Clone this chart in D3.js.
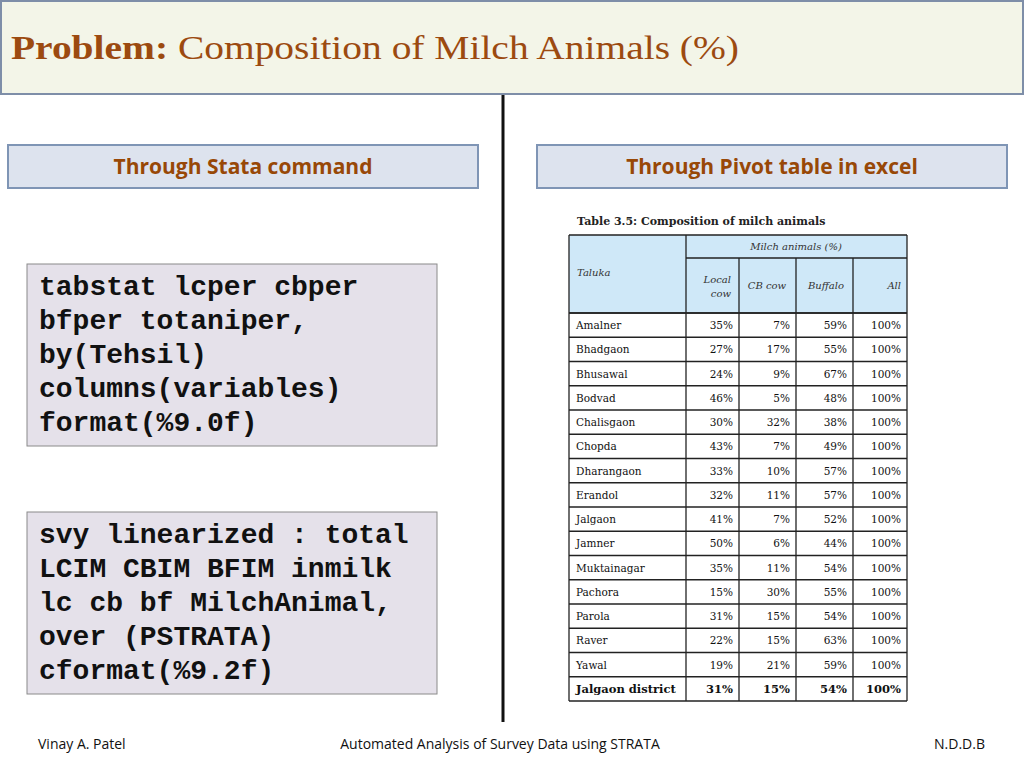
<!DOCTYPE html><html><head><meta charset="utf-8">
<script src="https://cdn.jsdelivr.net/npm/d3@7"></script>
<style>body{margin:0;background:#fff}</style></head><body>
<script>
const talukas=["Amalner","Bhadgaon","Bhusawal","Bodvad","Chalisgaon","Chopda","Dharangaon","Erandol","Jalgaon","Jamner","Muktainagar","Pachora","Parola","Raver","Yawal","Jalgaon district"];
const localCow=[35,27,24,46,30,43,33,32,41,50,35,15,31,22,19,31];
const cbCow=[7,17,9,5,32,7,10,11,7,6,11,30,15,15,21,15];
const buffalo=[59,55,67,48,38,49,57,57,52,44,54,55,54,63,59,54];
const allCol=[100,100,100,100,100,100,100,100,100,100,100,100,100,100,100,100];
const code1=["tabstat lcper cbper","bfper totaniper,","by(Tehsil)","columns(variables)","format(%9.0f)"];
const code2=["svy linearized : total","LCIM CBIM BFIM inmilk","lc cb bf MilchAnimal,","over (PSTRATA)","cformat(%9.2f)"];

const svg=d3.select("body").append("svg").attr("width",1024).attr("height",768);
svg.append("rect").attr("x",1).attr("y",1).attr("width",1022).attr("height",93).attr("fill","#f3f5e8").attr("stroke","#7e8ea8").attr("stroke-width",2);
const t=svg.append("text").attr("x",11).attr("y",59).attr("font-family","Liberation Serif, DejaVu Serif, serif").attr("font-size",34).attr("fill","#9c4a10").attr("textLength",728).attr("lengthAdjust","spacingAndGlyphs");
t.append("tspan").attr("font-weight","bold").text("Problem: ");
t.append("tspan").text("Composition of Milch Animals (%)");
svg.append("line").attr("x1",503).attr("x2",503).attr("y1",95).attr("y2",722).attr("stroke","#111").attr("stroke-width",3);
[[8,"Through Stata command"],[537,"Through Pivot table in excel"]].forEach(([x,s])=>{
 svg.append("rect").attr("x",x).attr("y",145).attr("width",470).attr("height",43).attr("fill","#dde3ee").attr("stroke","#7f95b5").attr("stroke-width",2);
 svg.append("text").attr("x",x+235).attr("y",174).attr("text-anchor","middle").attr("font-family","Open Sans, Lato, sans-serif").attr("font-weight","bold").attr("font-size",21).attr("fill","#984807").text(s);
});
[[264,code1],[512,code2]].forEach(([y,lines])=>{
 svg.append("rect").attr("x",27).attr("y",y).attr("width",410).attr("height",182).attr("fill","#e5e1ea").attr("stroke","#8a8a8a").attr("stroke-width",1);
 const ly=d3.scaleLinear().domain([0,1]).range([y+31,y+65]);
 svg.selectAll(null).data(lines).join("text").attr("x",39).attr("y",(d,i)=>ly(i)).attr("font-family","Liberation Mono, DejaVu Sans Mono, monospace").attr("font-weight","bold").attr("font-size",28).attr("fill","#111").attr("xml:space","preserve").text(d=>d);
});
const serif="DejaVu Serif, Liberation Serif, serif";
svg.append("text").attr("x",577).attr("y",225).attr("font-family",serif).attr("font-weight","bold").attr("font-size",11).attr("fill","#222").text("Table 3.5: Composition of milch animals");
const colX=[569,686,739,796,853,907];
const y=d3.scaleBand().domain(talukas).range([313,701]);
const g=svg.append("g");
g.append("rect").attr("x",569).attr("y",235).attr("width",338).attr("height",78).attr("fill","#cfe8f8");
const ln=(x1,y1,x2,y2)=>g.append("line").attr("x1",x1).attr("y1",y1).attr("x2",x2).attr("y2",y2).attr("stroke","#222").attr("stroke-width",1.3);
ln(569,235,907,235);ln(686,258,907,258);ln(569,313,907,313);ln(569,701,907,701);
talukas.forEach(d=>ln(569,y(d),907,y(d)));
ln(569,235,569,701);ln(686,235,686,701);
colX.slice(2,5).forEach(x=>ln(x,258,x,701));ln(907,235,907,701);
const it={"font-family":serif,"font-style":"italic","font-size":10,"fill":"#333"};
const tx=(x,yy,s,anchor,o)=>{const e=g.append("text").attr("x",x).attr("y",yy).attr("text-anchor",anchor).text(s);Object.entries(o).forEach(([k,v])=>e.attr(k,v));return e;};
tx(577,276,"Taluka","start",it);
tx(796,250,"Milch animals (%)","middle",it);
tx(731,283,"Local","end",it);tx(731,297,"cow","end",it);
tx(767,289,"CB cow","middle",it);tx(826,289,"Buffalo","middle",it);tx(901,289,"All","end",it);
const cols=[localCow,cbCow,buffalo,allCol];
talukas.forEach((d,i)=>{
 const last=i===talukas.length-1;
 const o={"font-family":serif,"font-size":last?11.5:10.5,"font-weight":last?"bold":"normal","fill":"#111"};
 const yy=y(d)+y.bandwidth()/2+4;
 tx(576,yy,d,"start",o);
 cols.forEach((c,j)=>tx(colX[j+2]-6,yy,c[i]+"%","end",o));
});
const ff={"font-family":"Open Sans, Lato, sans-serif","font-size":14,"fill":"#111"};
tx(38,749,"Vinay A. Patel","start",ff);
tx(500,749,"Automated Analysis of Survey Data using STRATA","middle",ff);
tx(985,749,"N.D.D.B","end",ff);
</script></body></html>
